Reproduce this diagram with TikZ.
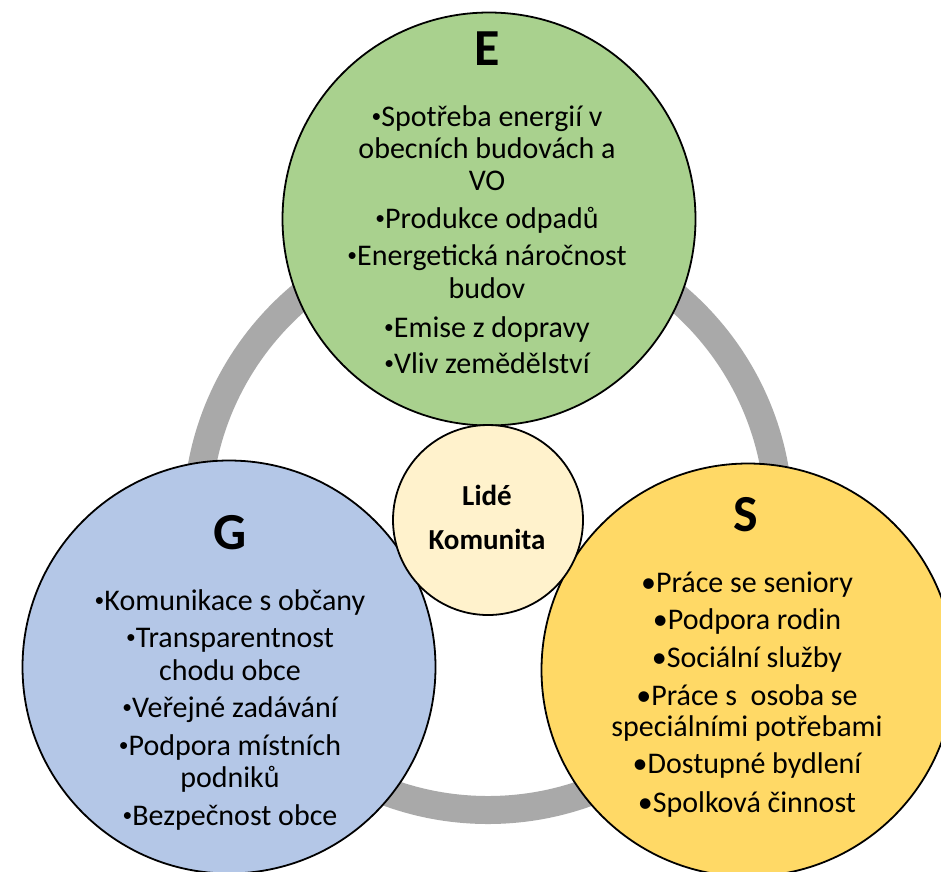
\documentclass[tikz,border=0pt]{standalone}
\usepackage{fontspec}
\setmainfont{Carlito}
\definecolor{egreen}{HTML}{A9D18E}
\definecolor{gblue}{HTML}{B4C7E7}
\definecolor{syellow}{HTML}{FFD966}
\definecolor{clight}{HTML}{FFF2CC}
\definecolor{ringgray}{HTML}{A9A9A9}
\newcommand\smbul{{\fontsize{19.5}{19.5}\selectfont\raisebox{4pt}{•}}}
\begin{document}
\begin{tikzpicture}[x=1pt,y=-1pt,
  bigc/.style={circle, draw=black, line width=1.8pt, minimum size=413pt, inner sep=0pt},
  ttl/.style={font=\fontsize{52}{52}\selectfont\bfseries, anchor=base, inner sep=0pt},
  ln/.style={font=\fontsize{30}{30}\selectfont, anchor=base, inner sep=0pt},
  ctr/.style={font=\fontsize{29}{29}\selectfont\bfseries, anchor=base, inner sep=0pt}]
\useasboundingbox (0,0) rectangle (941,871);
\clip (0,0) rectangle (941,871);
\fill[white] (0,0) rectangle (941,871);
% ring
\node[circle, draw=ringgray, line width=28pt, minimum size=582pt, inner sep=0pt] (ring) at (488,519) {};
% big circles
\node[bigc, fill=egreen] (E) at (489,219) {};
\node[bigc, fill=gblue] (G) at (229,667) {};
\node[bigc, fill=syellow] (S) at (748,670) {};
% centre
\node[circle, draw=black, line width=1.8pt, fill=clight, minimum size=190pt, inner sep=0pt] (C) at (488,520) {};
% titles
\node[ttl] (Et) at (487,65) {E};
\node[ttl] (Gt) at (230,549) {G};
\node[ttl] (St) at (746,531) {S};
\node[ctr] (C1) at (487,505) {Lidé};
\node[ctr] (C2) at (487,549) {Komunita};
% E items
\foreach \yy/\tt [count=\i] in {126/\smbul Spotřeba energií v, 158/obecních budovách a, 190/VO, 228/\smbul Produkce odpadů, 265/\smbul Energetická náročnost, 298/budov, 337/\smbul Emise z dopravy, 373/\smbul Vliv zemědělství}
  \node[ln] (E\i) at (487,\yy) {\tt};
% G items
\foreach \yy/\tt [count=\i] in {610/\smbul Komunikace s občany, 647/\smbul Transparentnost, 680/chodu obce, 717/\smbul Veřejné zadávání, 755/\smbul Podpora místních, 787/podniků, 825/\smbul Bezpečnost obce}
  \node[ln] (G\i) at (230,\yy) {\tt};
% S items
\foreach \yy/\tt [count=\i] in {592/•Práce se seniory, 629/•Podpora rodin, 667/•Sociální služby, 705/•Práce s~ osoba se, 736/speciálními potřebami, 773/•Dostupné bydlení, 812/•Spolková činnost}
  \node[ln] (S\i) at (747,\yy) {\tt};
\end{tikzpicture}
\end{document}
